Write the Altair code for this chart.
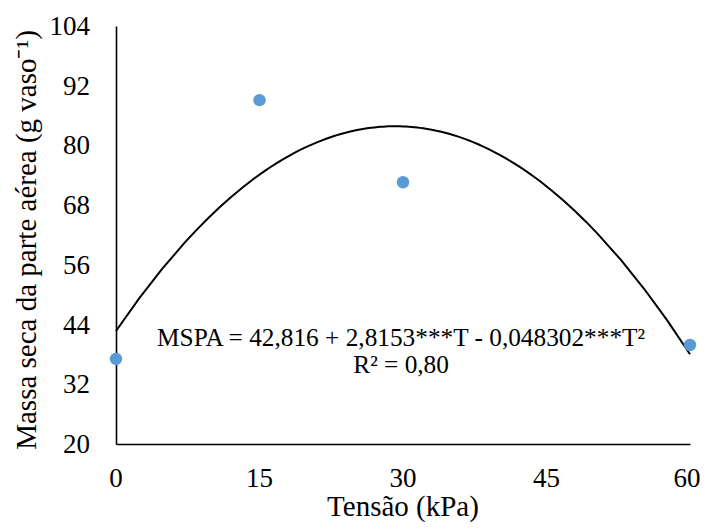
import altair as alt
import pandas as pd

# Data
tensao = [0, 15, 30, 60]
mspa = [37.1, 89.1, 72.6, 39.9]

x_ticks = [0, 15, 30, 45, 60]
x_labels = ["0", "15", "30", "45", "60"]
y_ticks = [20, 32, 44, 56, 68, 80, 92, 104]
y_labels = ["20", "32", "44", "56", "68", "80", "92", "104"]

x_title = "Tensão (kPa)"
y_title = "Massa seca da parte aérea (g vaso⁻¹)"
eq_lines = ["MSPA = 42,816 + 2,8153***T - 0,048302***T²", "R² = 0,80"]

FONT = "Liberation Serif"
W, H = 574, 418

df = pd.DataFrame({"Tensão": tensao, "MSPA": mspa})
xl_df = pd.DataFrame({"Tensão": x_ticks, "lab": x_labels})
yl_df = pd.DataFrame({"MSPA": y_ticks, "lab": y_labels})

xs = alt.Scale(domain=[0, 60], nice=False, zero=False)
ys = alt.Scale(domain=[20, 104], nice=False, zero=False)

ax = alt.Axis(
    values=x_ticks, title="", labels=False, ticks=False, tickSize=0, grid=False,
    domainColor="black", domainWidth=1.6,
)
ay = alt.Axis(
    values=y_ticks, title="", labels=False, ticks=False, tickSize=0, grid=False,
    domainColor="black", domainWidth=1.6,
)
x_enc = alt.X("Tensão:Q", scale=xs, axis=ax)
y_enc = alt.Y("MSPA:Q", scale=ys, axis=ay)

base = alt.Chart(df)

curve = base.mark_line(color="black", strokeWidth=2, clip=False).transform_regression(
    "Tensão", "MSPA", method="poly", order=2
).encode(x=x_enc, y=y_enc)

pts = base.mark_point(
    filled=True, shape="circle", size=155, color="#5B9BD5", opacity=1, clip=False
).encode(x=x_enc, y=y_enc)

# tick labels, placed through the scales
xlab_main = alt.Chart(xl_df).transform_filter("datum['Tensão'] < 60").mark_text(
    font=FONT, fontSize=27, color="black", align="center", baseline="alphabetic"
).encode(x=x_enc, y=alt.value(H + 43), text="lab:N")
xlab_end = alt.Chart(xl_df).transform_filter("datum['Tensão'] >= 60").mark_text(
    font=FONT, fontSize=27, color="black", align="center", baseline="alphabetic", dx=-3
).encode(x=x_enc, y=alt.value(H + 43), text="lab:N")
ylab = alt.Chart(yl_df).mark_text(
    font=FONT, fontSize=27, color="black", align="right", baseline="alphabetic", dy=9
).encode(x=alt.value(-26), y=y_enc, text="lab:N")

# axis titles
xt = alt.Chart(pd.DataFrame({"t": [x_title]})).mark_text(
    font=FONT, fontSize=29, color="black", align="center", baseline="alphabetic"
).encode(x=alt.value(W / 2), y=alt.value(H + 72), text="t:N")
yt = alt.Chart(pd.DataFrame({"t": [y_title]})).mark_text(
    font=FONT, fontSize=29, color="black", align="center", baseline="alphabetic", angle=270
).encode(x=alt.value(-80), y=alt.value(214), text="t:N")

# regression equation
eq_df = pd.DataFrame({"Tensão": [29.8], "MSPA": [39.7]})
eq = alt.Chart(eq_df).mark_text(
    text=eq_lines, font=FONT, fontSize=25.3, color="black", align="center",
    baseline="alphabetic", lineHeight=27,
).encode(x=x_enc, y=y_enc)

chart = (
    alt.layer(curve, pts, xlab_main, xlab_end, ylab, xt, yt, eq)
    .properties(
        width=W,
        height=H,
        autosize=alt.AutoSizeParams(type="none"),
        padding={"left": 108, "top": 18, "right": 10, "bottom": 78},
    )
    .configure(background="white")
    .configure_view(strokeWidth=0)
)

chart.save("out.html", embed_options={"renderer": "svg", "actions": False})
